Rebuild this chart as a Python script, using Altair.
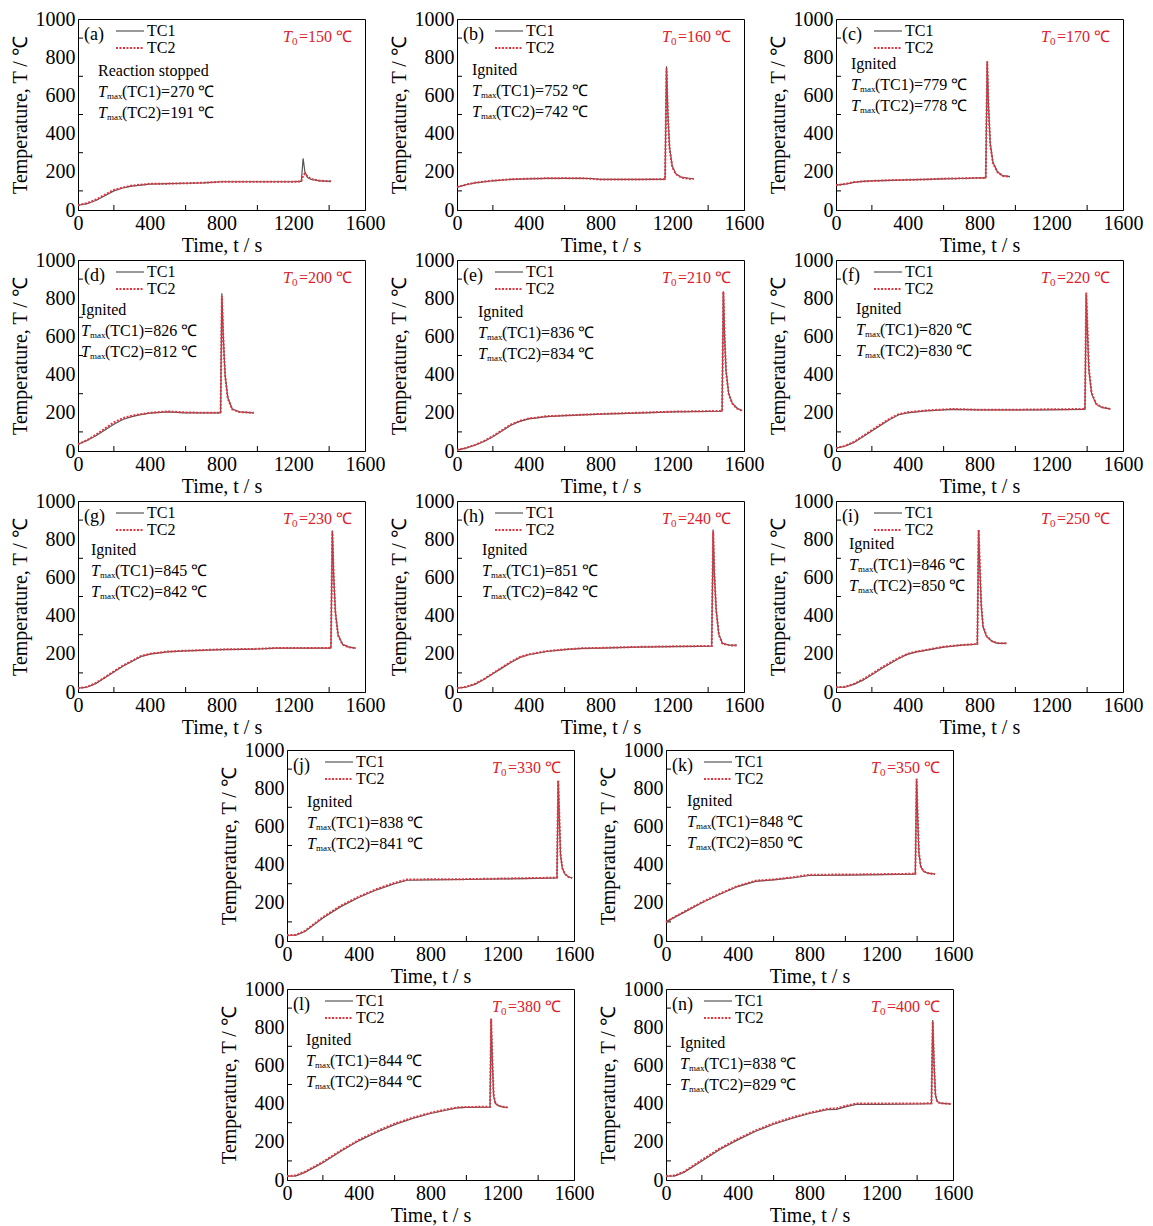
import altair as alt
import pandas as pd

FONT = "Liberation Serif"
GRAY = "#555555"
RED = "#e3343f"
TRED = "#e0202a"

W, H = 287, 191
X_TICKS = [0, 400, 800, 1200, 1600]
Y_TICKS = [0, 200, 400, 600, 800, 1000]
X_MINOR = [200, 600, 1000, 1400]
Y_MINOR = [100, 300, 500, 700, 900]

# ---------------- data ----------------
a_t = [0, 50, 100, 150, 200, 250, 300, 400, 500, 600, 700, 800, 1000, 1200, 1245, 1255, 1265, 1280, 1300, 1350, 1410]
a_tc1 = [25, 33, 50, 75, 100, 115, 125, 135, 138, 140, 142, 148, 148, 148, 150, 270, 200, 170, 160, 152, 150]
a_tc2 = [25, 35, 55, 80, 105, 118, 128, 137, 138, 140, 143, 148, 148, 148, 150, 180, 191, 175, 162, 153, 150]

b_t = [0, 50, 100, 200, 300, 400, 500, 600, 700, 750, 800, 1000, 1160, 1168, 1175, 1185, 1200, 1220, 1250, 1300, 1320]
b_tc1 = [120, 132, 142, 153, 160, 163, 166, 166, 166, 165, 160, 160, 160, 752, 520, 330, 230, 190, 172, 165, 165]
b_tc2 = [120, 133, 143, 154, 161, 164, 166, 167, 166, 163, 160, 160, 161, 742, 500, 320, 225, 188, 170, 163, 162]

c_t = [0, 50, 100, 150, 200, 300, 400, 500, 600, 700, 800, 835, 843, 850, 860, 875, 900, 930, 970]
c_tc1 = [130, 135, 145, 150, 152, 155, 158, 160, 163, 165, 168, 168, 779, 550, 350, 250, 200, 180, 175]
c_tc2 = [130, 136, 146, 150, 152, 156, 158, 160, 164, 166, 168, 168, 778, 540, 340, 245, 198, 178, 175]

d_t = [0, 50, 100, 150, 200, 250, 300, 350, 400, 500, 600, 700, 795, 802, 810, 820, 835, 860, 900, 980]
d_tc1 = [35, 55, 80, 110, 140, 165, 180, 190, 198, 205, 200, 200, 200, 826, 600, 400, 280, 220, 205, 200]
d_tc2 = [35, 57, 85, 118, 150, 172, 185, 193, 200, 207, 202, 200, 200, 812, 590, 395, 275, 218, 204, 200]

e_t = [0, 50, 100, 150, 200, 250, 300, 350, 400, 500, 600, 800, 1000, 1200, 1478, 1485, 1492, 1500, 1515, 1535, 1560, 1590]
e_tc1 = [5, 15, 30, 50, 75, 105, 135, 155, 168, 180, 185, 193, 198, 205, 208, 836, 600, 420, 300, 250, 225, 212]
e_tc2 = [5, 16, 32, 52, 78, 108, 138, 158, 170, 182, 186, 194, 200, 206, 210, 834, 590, 415, 295, 248, 223, 210]

f_t = [0, 50, 100, 150, 200, 250, 300, 350, 400, 500, 650, 800, 1000, 1150, 1388, 1395, 1402, 1410, 1425, 1450, 1480, 1530]
f_tc1 = [15, 25, 45, 75, 105, 135, 165, 190, 200, 210, 218, 215, 215, 215, 218, 820, 620, 420, 300, 245, 228, 220]
f_tc2 = [15, 27, 48, 78, 110, 140, 170, 193, 203, 212, 220, 216, 216, 218, 220, 830, 640, 430, 305, 248, 230, 220]

g_t = [0, 50, 100, 150, 200, 250, 300, 350, 400, 500, 600, 800, 1000, 1100, 1410, 1418, 1425, 1435, 1450, 1475, 1510, 1550]
g_tc1 = [20, 25, 45, 75, 105, 135, 160, 185, 198, 210, 215, 222, 225, 230, 230, 845, 620, 420, 300, 250, 235, 230]
g_tc2 = [20, 26, 47, 77, 108, 138, 163, 188, 200, 212, 216, 223, 226, 230, 230, 842, 610, 415, 295, 248, 234, 230]

h_t = [0, 50, 100, 150, 200, 250, 300, 350, 400, 500, 600, 700, 800, 1000, 1200, 1420, 1428, 1435, 1445, 1460, 1480, 1520, 1560]
h_tc1 = [20, 25, 40, 65, 95, 125, 155, 180, 195, 212, 222, 228, 230, 235, 238, 240, 851, 620, 430, 300, 255, 245, 245]
h_tc2 = [20, 27, 43, 68, 98, 128, 158, 183, 197, 214, 223, 229, 231, 236, 239, 241, 842, 610, 425, 298, 253, 244, 244]

i_t = [0, 50, 100, 150, 200, 250, 300, 350, 400, 450, 500, 600, 700, 788, 795, 802, 810, 820, 840, 870, 900, 950]
i_tc1 = [25, 25, 40, 62, 90, 120, 148, 175, 198, 210, 218, 235, 245, 250, 846, 650, 450, 340, 290, 265, 255, 255]
i_tc2 = [25, 27, 43, 66, 95, 125, 153, 178, 200, 212, 220, 237, 246, 252, 850, 660, 455, 345, 292, 266, 256, 255]

j_t = [0, 50, 100, 200, 300, 400, 500, 600, 670, 800, 1000, 1200, 1400, 1505, 1512, 1518, 1525, 1535, 1550, 1570, 1590]
j_tc1 = [30, 30, 50, 120, 180, 228, 268, 300, 318, 320, 322, 325, 328, 330, 838, 650, 450, 380, 350, 335, 330]
j_tc2 = [30, 32, 53, 125, 185, 232, 272, 305, 322, 323, 324, 327, 330, 332, 841, 660, 455, 382, 350, 335, 330]

k_t = [0, 50, 100, 200, 300, 400, 500, 600, 700, 800, 1000, 1200, 1390, 1397, 1403, 1410, 1420, 1435, 1460, 1500]
k_tc1 = [100, 125, 150, 200, 245, 285, 312, 320, 330, 343, 345, 348, 350, 848, 650, 460, 390, 365, 355, 350]
k_tc2 = [100, 127, 153, 203, 248, 288, 316, 322, 333, 347, 348, 350, 352, 850, 655, 465, 392, 366, 355, 350]

l_t = [0, 50, 100, 200, 300, 400, 500, 600, 700, 800, 900, 950, 1000, 1132, 1138, 1145, 1152, 1162, 1180, 1205, 1230]
l_tc1 = [20, 22, 40, 90, 150, 205, 250, 290, 322, 348, 368, 378, 380, 382, 844, 620, 440, 400, 388, 382, 380]
l_tc2 = [20, 24, 43, 95, 155, 210, 255, 295, 326, 352, 372, 380, 382, 384, 844, 625, 445, 402, 389, 383, 380]

n_t = [0, 50, 100, 200, 300, 400, 500, 600, 700, 800, 900, 950, 1000, 1060, 1200, 1400, 1480, 1487, 1494, 1502, 1512, 1530, 1560, 1590]
n_tc1 = [20, 22, 40, 100, 160, 210, 255, 292, 322, 348, 368, 370, 383, 396, 396, 398, 400, 838, 620, 450, 410, 402, 400, 398]
n_tc2 = [20, 24, 43, 105, 165, 215, 260, 297, 327, 352, 373, 375, 388, 400, 400, 400, 402, 829, 610, 445, 408, 402, 400, 398]

# label, T0, status, Tmax(TC1) text, Tmax(TC2) text, annotation x, annotation y
PANELS = {
    "a": ("(a)", "150", "Reaction stopped", "(TC1)=270  ℃", " (TC2)=191  ℃", 20, 52, a_t, a_tc1, a_tc2),
    "b": ("(b)", "160", "Ignited", "(TC1)=752  ℃", "(TC2)=742  ℃", 15, 51, b_t, b_tc1, b_tc2),
    "c": ("(c)", "170", "Ignited", "(TC1)=779  ℃", "(TC2)=778  ℃", 15, 45, c_t, c_tc1, c_tc2),
    "d": ("(d)", "200", "Ignited", "(TC1)=826  ℃", " (TC2)=812  ℃", 3, 50, d_t, d_tc1, d_tc2),
    "e": ("(e)", "210", "Ignited", "(TC1)=836  ℃", "(TC2)=834  ℃", 21, 52, e_t, e_tc1, e_tc2),
    "f": ("(f)", "220", "Ignited", "(TC1)=820  ℃", "(TC2)=830  ℃", 20, 49, f_t, f_tc1, f_tc2),
    "g": ("(g)", "230", "Ignited", "(TC1)=845  ℃", " (TC2)=842  ℃", 13, 49, g_t, g_tc1, g_tc2),
    "h": ("(h)", "240", "Ignited", "(TC1)=851  ℃", "(TC2)=842  ℃", 25, 49, h_t, h_tc1, h_tc2),
    "i": ("(i)", "250", "Ignited", "(TC1)=846  ℃", "(TC2)=850  ℃", 13, 43, i_t, i_tc1, i_tc2),
    "j": ("(j)", "330", "Ignited", "(TC1)=838  ℃", "(TC2)=841  ℃", 20, 52, j_t, j_tc1, j_tc2),
    "k": ("(k)", "350", "Ignited", "(TC1)=848  ℃", "(TC2)=850  ℃", 21, 51, k_t, k_tc1, k_tc2),
    "l": ("(l)", "380", "Ignited", "(TC1)=844  ℃", "(TC2)=844  ℃", 19, 51, l_t, l_tc1, l_tc2),
    "n": ("(n)", "400", "Ignited", "(TC1)=838  ℃", "(TC2)=829  ℃", 14, 54, n_t, n_tc1, n_tc2),
}

ONE = pd.DataFrame({"k": [0]})


def txt(x, y, s, size=16, color="black", style="normal"):
    return alt.Chart(ONE).mark_text(
        font=FONT, fontSize=size, color=color, fontStyle=style,
        align="left", baseline="middle"
    ).encode(x=alt.value(x), y=alt.value(y), text=alt.value(s))


def seg(x1, x2, y, color, width, dash=None):
    kw = dict(color=color, strokeWidth=width)
    if dash:
        kw["strokeDash"] = dash
    return alt.Chart(ONE).mark_rule(**kw).encode(
        x=alt.value(x1), x2=alt.value(x2), y=alt.value(y))


def panel(key):
    label, t0, status, r1, r2, ax, ay, t, tc1, tc2 = PANELS[key]
    df = pd.DataFrame({"t": t, "TC1": tc1, "TC2": tc2})
    xs = alt.Scale(domain=[0, 1600], nice=False, zero=False)
    ys = alt.Scale(domain=[0, 1000], nice=False)
    xa = alt.Axis(values=X_TICKS, title="Time, t / s", titlePadding=2,
                  labelPadding=3, format="d")
    ya = alt.Axis(values=Y_TICKS, title="Temperature, T / ℃", titlePadding=5,
                  labelPadding=3, format="d")

    xt = alt.Chart(pd.DataFrame({"v": X_MINOR})).mark_rule(color="black").encode(
        x=alt.X("v:Q", scale=xs, axis=xa), y=alt.value(H), y2=alt.value(H - 5))
    yt = alt.Chart(pd.DataFrame({"v": Y_MINOR})).mark_rule(color="black").encode(
        y=alt.Y("v:Q", scale=ys, axis=ya), x=alt.value(0), x2=alt.value(5))

    l1 = alt.Chart(df).mark_line(color=GRAY, strokeWidth=1.2).encode(
        x=alt.X("t:Q", scale=xs, axis=xa), y=alt.Y("TC1:Q", scale=ys, axis=ya))
    l2 = alt.Chart(df).mark_line(color=RED, strokeWidth=2, strokeDash=[2, 1.5]).encode(
        x=alt.X("t:Q", scale=xs, axis=xa), y=alt.Y("TC2:Q", scale=ys, axis=ya))

    layers = [xt, yt, l1, l2,
              txt(6, 16, label, size=18),
              seg(38, 66, 12, GRAY, 1.2), txt(69, 12, "TC1"),
              seg(38, 66, 29, RED, 2, [2, 1.5]), txt(69, 29, "TC2"),
              txt(ax, ay, status)]
    for i, rest in enumerate([r1, r2]):
        yy = ay + 21 * (i + 1)
        layers += [txt(ax, yy, "T", style="italic"),
                   txt(ax + 9, yy + 4, "max", size=9),
                   txt(ax + 24, yy, rest)]
    tx = W - 82
    layers += [txt(tx, 18, "T", color=TRED, style="italic"),
               txt(tx + 9, 23, "0", size=11, color=TRED),
               txt(tx + 16, 18, " =" + t0 + "  ℃", color=TRED)]
    return alt.layer(*layers).properties(width=W, height=H)


def spacer(w):
    return alt.Chart(ONE).mark_point(opacity=0).encode(
        x=alt.value(0), y=alt.value(0)
    ).properties(width=w, height=H, view=alt.ViewBackground(stroke="transparent"))


S = 2
row1 = alt.hconcat(panel("a"), panel("b"), panel("c"), spacing=S)
row2 = alt.hconcat(panel("d"), panel("e"), panel("f"), spacing=S)
row3 = alt.hconcat(panel("g"), panel("h"), panel("i"), spacing=S)
row4 = alt.hconcat(spacer(137), panel("j"), panel("k"), spacing=S)
row5 = alt.hconcat(spacer(137), panel("l"), panel("n"), spacing=S)

top = alt.vconcat(row1, row2, row3, spacing=-7)
bottom = alt.vconcat(row4, row5, spacing=-9)
chart = alt.vconcat(top, bottom, spacing=1).properties(
    padding={"left": 1, "top": 0, "right": 0, "bottom": 0}
).configure_view(stroke="black", strokeWidth=1).configure_axis(
    labelFont=FONT, titleFont=FONT, labelFontSize=20, titleFontSize=20,
    labelColor="black", titleColor="black", titleFontWeight="normal",
    domainColor="black", domainWidth=1, ticks=False, grid=False,
    labelFlush=False, labelOverlap=False
)

chart.save("out.html", embed_options={"renderer": "svg", "actions": False})
